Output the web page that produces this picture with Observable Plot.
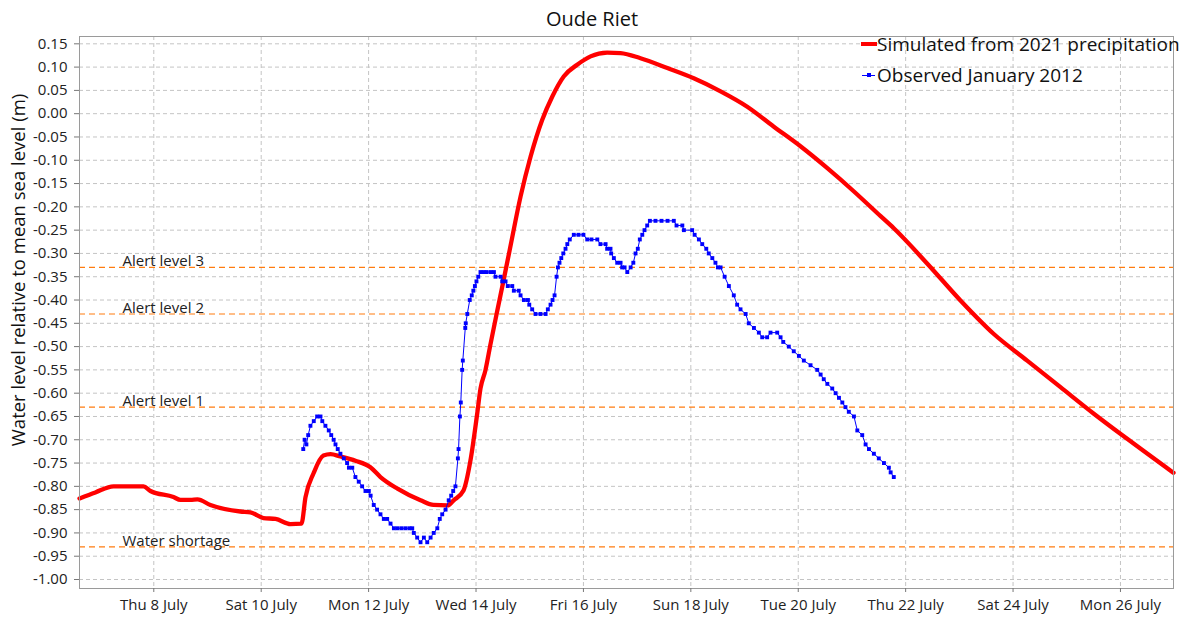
<!DOCTYPE html>
<html>
<head>
<meta charset="utf-8">
<script src="https://cdn.jsdelivr.net/npm/d3@7"></script>
<script src="https://cdn.jsdelivr.net/npm/@observablehq/plot@0.6"></script>
<style>
  body { margin: 0; background: #fff; font-family: "Open Sans", sans-serif; color: #111; }
  #wrap { position: relative; width: 1184px; height: 617px; overflow: hidden; }
  #title { position: absolute; left: 0; top: 5px; width: 1184px; text-align: center; font-size: 20px; line-height: 28px; }
  #ylabel { position: absolute; left: 18px; top: 270px; transform: translate(-50%, -50%) rotate(-90deg); white-space: nowrap; font-size: 18.5px; line-height: 22px; }
  .leg { position: absolute; left: 859px; font-size: 19px; line-height: 24px; white-space: nowrap; display: flex; align-items: center; }
  .sw { position: relative; display: inline-block; width: 18px; height: 24px; }
  .sw.red::before { content: ""; position: absolute; left: 2px; right: 0; top: 10px; height: 4px; background: #ff0000; }
  .sw.blue::before { content: ""; position: absolute; left: 3px; right: 2px; top: 11.5px; height: 1px; background: #0000ff; }
  .sw.blue::after { content: ""; position: absolute; left: 8px; top: 10px; width: 4px; height: 4px; background: #0000ff; }
</style>
</head>
<body>
<div id="wrap">
  <div id="chart"></div>
  <div id="title">Oude Riet</div>
  <div id="ylabel">Water level relative to mean sea level (m)</div>
  <div class="leg" style="top:32px"><span class="sw red"></span>Simulated from 2021 precipitation</div>
  <div class="leg" style="top:63px"><span class="sw blue"></span>Observed January 2012</div>
</div>
<script>
// ---- data ----
const baseTime = "2021-07-08T00:00";   // hours below are counted from this moment

const simHours = [-33.2, -26.1, -18.0, -11.3, -4.6, -1.5, 8.8, 11.9, 16.4, 19.5, 25.3, 38.7, 43.2, 49.0, 54.4, 61.1, 66.0,
  67.8, 71.4, 75.8, 79.0, 83.4, 90.1, 96.8, 101.3, 108.9, 119.2, 125.0, 131.3, 134.0, 138.4, 141.5, 144.5, 146.0,
  148.2, 150.5, 153.5, 156.3, 159.0, 163.9, 168.4, 173.6, 178.1, 183.2, 189.2, 195.2, 202.6, 208.6, 217.5, 229.5,
  241.3, 253.3, 265.2, 277.1, 289.0, 301.0, 312.9, 324.8, 330.7, 345.7, 360.5, 375.4, 390.3, 405.2, 420.1, 435.0, 455.7];
const simLevel = [-0.826, -0.813, -0.800, -0.800, -0.800, -0.810, -0.823, -0.829, -0.829, -0.828, -0.840, -0.854, -0.856, -0.868, -0.870, -0.881, -0.880,
  -0.823, -0.772, -0.734, -0.731, -0.736, -0.745, -0.759, -0.780, -0.805, -0.830, -0.840, -0.841, -0.830, -0.809, -0.745, -0.645, -0.590,
  -0.551, -0.494, -0.423, -0.358, -0.294, -0.178, -0.092, -0.013, 0.037, 0.080, 0.105, 0.123, 0.131, 0.130, 0.119, 0.098,
  0.076, 0.048, 0.015, -0.028, -0.070, -0.117, -0.167, -0.220, -0.246, -0.322, -0.401, -0.473, -0.530, -0.587, -0.644, -0.698, -0.771];

const obsHours = [66.8, 67.4, 68.2, 69.0, 70.0, 71.5, 73.0, 74.5, 75.3, 76.7, 78.2, 79.3, 80.4, 81.2, 82.2, 83.4, 84.9, 86.4, 87.2, 88.7,
  90.1, 91.6, 93.1, 94.6, 96.1, 96.9, 98.3, 99.8, 101.3, 102.8, 104.3, 105.8, 107.3, 108.9, 110.7, 112.5, 114.3, 115.5, 116.2, 117.7,
  119.2, 120.7, 122.2, 123.7, 125.1, 126.7, 127.8, 128.9, 130.4, 131.8, 132.9, 133.8, 134.8, 135.9, 136.2, 136.8, 137.2, 137.8, 138.1, 139.2,
  139.4, 140.1, 141.2, 142.1, 142.8, 143.5, 144.2, 145.0, 146.0, 147.4, 148.7, 150.5, 152.0, 152.7, 155.0, 155.7, 157.2, 158.2, 160.2, 160.9,
  163.1, 163.9, 165.4, 167.2, 167.8, 169.1, 170.6, 172.8, 175.1, 176.1, 177.3, 178.2, 179.1, 180.0, 180.6, 181.3, 182.1, 183.0, 184.0, 184.8,
  185.9, 187.7, 189.8, 192.0, 193.7, 195.6, 198.2, 199.6, 201.9, 202.6, 204.1, 204.4, 205.6, 207.1, 208.6, 209.3, 210.4, 211.6, 213.1, 214.3,
  215.3, 216.3, 217.2, 218.3, 219.3, 220.5, 221.7, 224.2, 226.9, 229.6, 232.4, 233.6, 236.2, 236.9, 240.6, 241.7, 243.6, 245.1, 246.9, 248.0,
  249.6, 251.0, 252.1, 253.3, 255.1, 257.0, 259.2, 260.7, 262.2, 264.5, 265.9, 268.2, 270.4, 271.9, 274.1, 275.6, 278.6, 280.1, 281.3, 283.8,
  286.0, 288.3, 290.5, 293.5, 296.5, 298.0, 299.4, 301.0, 303.2, 304.7, 306.2, 307.7, 309.1, 310.6, 312.9, 314.4, 316.6, 318.1, 319.6, 321.8,
  324.0, 326.3, 328.5, 329.3, 330.7];
const obsLevel = [-0.72, -0.70, -0.71, -0.69, -0.67, -0.66, -0.65, -0.65, -0.66, -0.67, -0.68, -0.69, -0.70, -0.71, -0.72, -0.73, -0.74, -0.75, -0.76, -0.76,
  -0.78, -0.79, -0.80, -0.81, -0.81, -0.82, -0.84, -0.85, -0.86, -0.87, -0.87, -0.88, -0.89, -0.89, -0.89, -0.89, -0.89, -0.89, -0.90, -0.91,
  -0.92, -0.91, -0.92, -0.91, -0.90, -0.89, -0.87, -0.86, -0.85, -0.83, -0.82, -0.81, -0.80, -0.74, -0.72, -0.65, -0.62, -0.55, -0.53, -0.46,
  -0.45, -0.43, -0.40, -0.39, -0.38, -0.37, -0.36, -0.35, -0.34, -0.34, -0.34, -0.34, -0.34, -0.35, -0.35, -0.36, -0.36, -0.37, -0.37, -0.38,
  -0.38, -0.39, -0.40, -0.40, -0.41, -0.42, -0.43, -0.43, -0.43, -0.42, -0.41, -0.40, -0.39, -0.35, -0.33, -0.32, -0.31, -0.30, -0.29, -0.28,
  -0.27, -0.26, -0.26, -0.26, -0.27, -0.27, -0.27, -0.28, -0.28, -0.29, -0.29, -0.30, -0.31, -0.32, -0.32, -0.33, -0.33, -0.34, -0.33, -0.32,
  -0.30, -0.29, -0.27, -0.26, -0.25, -0.24, -0.23, -0.23, -0.23, -0.23, -0.23, -0.24, -0.24, -0.25, -0.25, -0.26, -0.27, -0.28, -0.29, -0.30,
  -0.31, -0.32, -0.33, -0.33, -0.35, -0.37, -0.39, -0.41, -0.42, -0.43, -0.45, -0.46, -0.47, -0.48, -0.48, -0.47, -0.47, -0.48, -0.49, -0.50,
  -0.51, -0.52, -0.53, -0.54, -0.55, -0.56, -0.57, -0.58, -0.59, -0.60, -0.61, -0.62, -0.63, -0.64, -0.65, -0.68, -0.69, -0.71, -0.72, -0.73,
  -0.74, -0.75, -0.76, -0.77, -0.78];

const alertLabels = ["Alert level 3", "Alert level 2", "Alert level 1", "Water shortage"];
const alertLevels = [-0.33, -0.43, -0.63, -0.93];

const xTickDates = ["2021-07-08", "2021-07-10", "2021-07-12", "2021-07-14", "2021-07-16",
  "2021-07-18", "2021-07-20", "2021-07-22", "2021-07-24", "2021-07-26"];
const yTicks = [-1.00, -0.95, -0.90, -0.85, -0.80, -0.75, -0.70, -0.65, -0.60, -0.55, -0.50, -0.45,
  -0.40, -0.35, -0.30, -0.25, -0.20, -0.15, -0.10, -0.05, 0.00, 0.05, 0.10, 0.15];
const xDomain = ["2021-07-06T14:48", "2021-07-26T23:42"];
const yDomain = [-1.0193, 0.1657];

// ---- build tables ----
const t0 = new Date(baseTime).getTime();
const toDate = h => new Date(t0 + h * 3600e3);
const sim = simHours.map((h, i) => ({time: toDate(h), level: simLevel[i]}));
const obs = obsHours.map((h, i) => ({time: toDate(h), level: obsLevel[i]}));
const alerts = alertLabels.map((label, i) => ({label, level: alertLevels[i]}));
const xTicks = xTickDates.map(s => new Date(s + "T00:00"));
const fmtX = d3.timeFormat("%a %-d %B");

const chart = Plot.plot({
  width: 1184,
  height: 617,
  marginLeft: 79,
  marginRight: 11,
  marginTop: 36,
  marginBottom: 29,
  style: {fontFamily: "'Open Sans', sans-serif", fontSize: "15px", color: "#222", background: "#fff"},
  x: {type: "time", domain: xDomain.map(s => new Date(s))},
  y: {domain: yDomain},
  marks: [
    Plot.gridY(yTicks, {stroke: "#c4c4c4", strokeOpacity: 1, strokeDasharray: "4,3"}),
    Plot.gridX(xTicks, {stroke: "#c4c4c4", strokeOpacity: 1, strokeDasharray: "4,3"}),
    Plot.ruleY(alerts, {y: "level", stroke: "#ff7c10", strokeWidth: 1.2, strokeDasharray: "6,4"}),
    Plot.text(alerts, {y: "level", text: "label", frameAnchor: "left", dx: 43, dy: -6, textAnchor: "start", fontSize: 15, fill: "#222"}),
    Plot.line(sim, {x: "time", y: "level", stroke: "#ff0000", strokeWidth: 4.3, curve: "monotone-x"}),
    Plot.line(obs, {x: "time", y: "level", stroke: "#0000ff", strokeWidth: 1}),
    Plot.dot(obs, {x: "time", y: "level", symbol: "square", r: 2.2, fill: "#0000ff", stroke: "none"}),
    Plot.frame({stroke: "#9a9a9a"}),
    Plot.axisX(xTicks, {tickFormat: fmtX, tickSize: 4, tickPadding: 7, fontSize: 15, label: null, stroke: "#777"}),
    Plot.axisY(yTicks, {tickFormat: d => d.toFixed(2), tickSize: 5, tickPadding: 7, fontSize: 15, label: null, stroke: "#777"})
  ]
});
document.getElementById("chart").appendChild(chart);
</script>
</body>
</html>
